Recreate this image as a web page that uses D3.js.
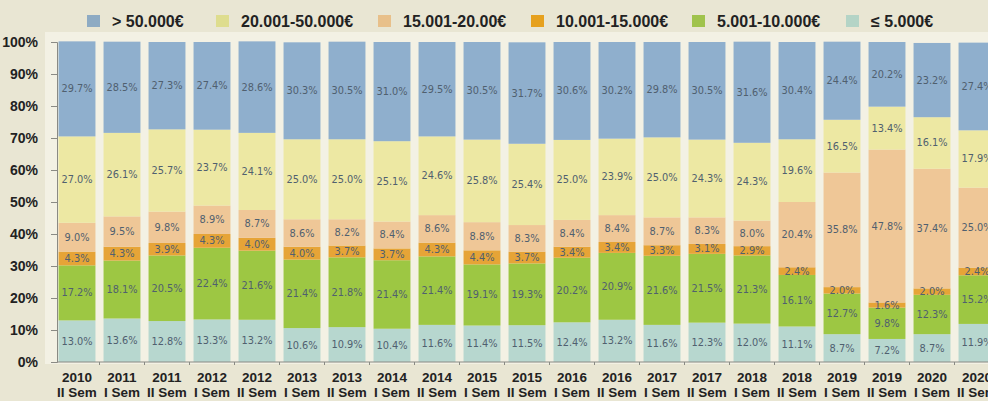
<!DOCTYPE html>
<html>
<head>
<meta charset="utf-8">
<script src="https://cdn.jsdelivr.net/npm/d3@7"></script>
<style>
  html, body { margin: 0; padding: 0; background: #e9e6d3; }
  svg { display: block; }
</style>
</head>
<body>
<svg id="chart" width="988" height="401"></svg>
<script>
// periods (x axis, two lines)
const years = ['2010', '2011', '2011', '2012', '2012', '2013', '2013', '2014', '2014', '2015', '2015',
  '2016', '2016', '2017', '2017', '2018', '2018', '2019', '2019', '2020', '2020']
const sems = ['II Sem', 'I Sem', 'II Sem', 'I Sem', 'II Sem', 'I Sem', 'II Sem', 'I Sem', 'II Sem', 'I Sem', 'II Sem',
  'I Sem', 'II Sem', 'I Sem', 'II Sem', 'I Sem', 'II Sem', 'I Sem', 'II Sem', 'I Sem', 'II Sem']

// income bands, bottom to top
const upTo5000 = [13.0, 13.6, 12.8, 13.3, 13.2, 10.6, 10.9, 10.4, 11.6, 11.4, 11.5, 12.4, 13.2, 11.6, 12.3, 12.0, 11.1, 8.7, 7.2, 8.7, 11.9]
const from5to10 = [17.2, 18.1, 20.5, 22.4, 21.6, 21.4, 21.8, 21.4, 21.4, 19.1, 19.3, 20.2, 20.9, 21.6, 21.5, 21.3, 16.1, 12.7, 9.8, 12.3, 15.2]
const from10to15 = [4.3, 4.3, 3.9, 4.3, 4.0, 4.0, 3.7, 3.7, 4.3, 4.4, 3.7, 3.4, 3.4, 3.3, 3.1, 2.9, 2.4, 2.0, 1.6, 2.0, 2.4]
const from15to20 = [9.0, 9.5, 9.8, 8.9, 8.7, 8.6, 8.2, 8.4, 8.6, 8.8, 8.3, 8.4, 8.4, 8.7, 8.3, 8.0, 20.4, 35.8, 47.8, 37.4, 25.0]
const from20to50 = [27.0, 26.1, 25.7, 23.7, 24.1, 25.0, 25.0, 25.1, 24.6, 25.8, 25.4, 25.0, 23.9, 25.0, 24.3, 24.3, 19.6, 16.5, 13.4, 16.1, 17.9]
const over50 = [29.7, 28.5, 27.3, 27.4, 28.6, 30.3, 30.5, 31.0, 29.5, 30.5, 31.7, 30.6, 30.2, 29.8, 30.5, 31.6, 30.4, 24.4, 20.2, 23.2, 27.4]

const seriesNames = ['≤ 5.000€', '5.001-10.000€', '10.001-15.000€', '15.001-20.00€', '20.001-50.000€', '> 50.000€']
const seriesValues = [upTo5000, from5to10, from10to15, from15to20, from20to50, over50]
const barColors = ['#b7d7cf', '#9dc743', '#e6a437', '#efc797', '#ede8a3', '#8fafcd']
const legendColors = ['#b4d4c6', '#a0c34c', '#e6a11e', '#e8c08a', '#dedd8e', '#8eabc3']
const yTicks = [0, 10, 20, 30, 40, 50, 60, 70, 80, 90, 100]

const svg = d3.select('#chart')
const width = 988
const height = 401
const margin = { top: 42, bottom: 39, left: 57 }

// build rows for d3.stack
const keys = seriesNames
const rows = years.map((y, i) => {
  const r = { id: i, year: y, sem: sems[i] }
  keys.forEach((k, s) => { r[k] = seriesValues[s][i] })
  return r
})
const stacked = d3.stack().keys(keys)(rows)

// ------------------
// Scales
// ------------------
const x = d3.scaleBand()
  .domain(rows.map(d => d.id))
  .range([54.5, 54.5 + 45 * 21])
  .paddingInner(0.18)
  .paddingOuter(0.09)

const y = d3.scaleLinear()
  .domain([0, 100])
  .range([height - margin.bottom, margin.top])

// plot background
svg.append('rect')
  .attr('x', 45)
  .attr('y', 32)
  .attr('width', width - 45)
  .attr('height', y(0) - 32 + 2)
  .attr('fill', '#f3f1e4')

// ------------------
// Bars
// ------------------
const layer = svg.append('g')
  .selectAll('g')
  .data(stacked)
  .join('g')
  .attr('fill', (d, i) => barColors[i])

layer.selectAll('rect')
  .data(d => d)
  .join('rect')
  .attr('x', d => x(d.data.id))
  .attr('y', d => y(d[1]))
  .attr('width', x.bandwidth())
  .attr('height', d => y(d[0]) - y(d[1]))

// value labels
const labels = svg.append('g')
  .attr('font-family', 'DejaVu Sans, sans-serif')
  .attr('font-size', 9.8)
  .attr('fill', '#50606f')
  .attr('text-anchor', 'middle')

stacked.forEach((s, si) => {
  labels.selectAll(null)
    .data(s)
    .join('text')
    .attr('x', d => x(d.data.id) + x.bandwidth() / 2)
    .attr('y', d => y((d[0] + d[1]) / 2) + 3.5)
    .text(d => seriesValues[si][d.data.id].toFixed(1) + '%')
})

// ------------------
// Axes
// ------------------
const yAxis = d3.axisLeft(y)
  .tickValues(yTicks)
  .tickSize(6)
  .tickPadding(13)
  .tickFormat(d => d + '%')

const yg = svg.append('g')
  .attr('transform', `translate(${margin.left},0)`)
  .call(yAxis)
yg.select('.domain').attr('stroke', '#8a8a84')
yg.selectAll('.tick line').attr('stroke', '#8a8a84')
yg.selectAll('.tick text')
  .attr('font-family', 'Liberation Sans Narrow, Arial Narrow, sans-serif')
  .attr('font-weight', 'bold')
  .attr('font-size', 14)
  .attr('fill', '#222')
  .attr('dy', '0.35em')

// x baseline with small ticks between the bars
svg.append('line')
  .attr('x1', margin.left)
  .attr('x2', width)
  .attr('y1', y(0))
  .attr('y2', y(0))
  .attr('stroke', '#8a8a84')

svg.append('g')
  .selectAll('line')
  .data(rows)
  .join('line')
  .attr('x1', d => x(d.id) + x.bandwidth() + x.step() * 0.09)
  .attr('x2', d => x(d.id) + x.bandwidth() + x.step() * 0.09)
  .attr('y1', y(0))
  .attr('y2', y(0) + 3)
  .attr('stroke', '#8a8a84')

const xl = svg.append('g')
  .attr('font-family', 'Liberation Sans Narrow, Arial Narrow, sans-serif')
  .attr('font-weight', 'bold')
  .attr('font-size', 13.5)
  .attr('fill', '#222')
  .attr('text-anchor', 'middle')

xl.selectAll('text.yr')
  .data(rows)
  .join('text')
  .attr('class', 'yr')
  .attr('x', d => x(d.id) + x.bandwidth() / 2)
  .attr('y', 382)
  .text(d => d.year)

xl.selectAll('text.sem')
  .data(rows)
  .join('text')
  .attr('class', 'sem')
  .attr('x', d => x(d.id) + x.bandwidth() / 2)
  .attr('y', 397)
  .text(d => d.sem)

// ------------------
// Legend (top row, reverse order)
// ------------------
const legendX = [87, 216, 378, 531, 692, 846]
const legendOrder = [5, 4, 3, 2, 1, 0]

const legend = svg.append('g')
  .selectAll('g')
  .data(legendOrder)
  .join('g')
  .attr('transform', (d, i) => `translate(${legendX[i]},15)`)

legend.append('rect')
  .attr('width', 13)
  .attr('height', 12)
  .attr('fill', d => legendColors[d])

legend.append('text')
  .attr('x', 25)
  .attr('y', 12)
  .attr('font-family', 'Liberation Sans Narrow, Arial Narrow, sans-serif')
  .attr('font-weight', 'bold')
  .attr('font-size', 16)
  .attr('fill', '#222')
  .text(d => seriesNames[d])
</script>
</body>
</html>
